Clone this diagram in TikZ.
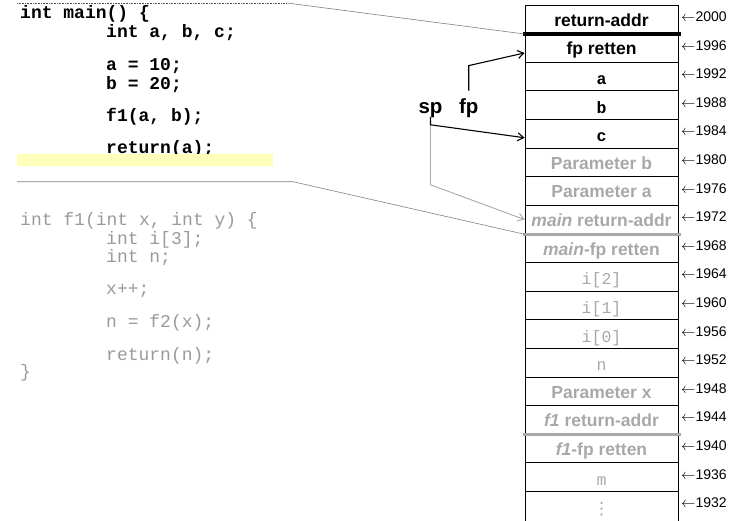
\documentclass[tikz,border=0pt]{standalone}
\usepackage{amsmath, amssymb}
\usepackage{fontspec}
\usepackage{tikz}
\usepackage{xcolor}
\usetikzlibrary{arrows.meta}

\newfontfamily\helv{Liberation Sans}
\newfontfamily\cour{Liberation Mono}
\newfontfamily\dejavu{DejaVu Sans}

\definecolor{stackgray}{HTML}{A8A8A8}
\definecolor{codegray}{HTML}{9A9A9A}
\definecolor{markyellow}{HTML}{FFFFBB}

\tikzset{
    cell/.style={draw, line width=0.8pt, minimum width=153pt, minimum height=28.61pt,
        inner sep=0pt, text height=16pt, text depth=2pt,
        font=\helv\bfseries\fontsize{17.5}{20}\selectfont},
    oldcell/.style={cell, text=stackgray},
    varcell/.style={cell, text height=17pt, text depth=1pt,
        font=\cour\bfseries\fontsize{16.5}{18}\selectfont},
    oldvarcell/.style={varcell, text=stackgray, font=\cour\fontsize{16.5}{18}\selectfont},
    addr/.style={anchor=west, inner sep=0pt, font=\helv\fontsize{14}{16}\selectfont},
    maincode/.style={anchor=base west, inner sep=0pt, font=\cour\bfseries\fontsize{18}{20}\selectfont},
    f1code/.style={anchor=base west, inner sep=0pt, text=codegray, font=\cour\fontsize{18}{20}\selectfont},
    regname/.style={anchor=base west, font=\helv\bfseries\fontsize{20.5}{24}\selectfont},
    ptr/.style={-{Straight Barb[length=6pt, width=8pt]}, line width=1.1pt},
    oldptr/.style={ptr, stackgray, line width=0.9pt},
    framing/.style={gray, line width=0.6pt},
    splitline/.style={line width=3.5pt}
}

\begin{document}
\begin{tikzpicture}[x=1pt, y=-1pt]
                \useasboundingbox (0,0) rectangle (745,520);
                % code of main
                \node[maincode] (m1) at (20,18.7) {int main() \{};
                \node[maincode] (m2) at (106,37.7) {int a, b, c;};
                \node[maincode] (m3) at (106,70.7) {a = 10;};
                \node[maincode] (m4) at (106,89.3) {b = 20;};
                \node[maincode] (m5) at (106,121.7) {f1(a, b);};
                \node[maincode] (m6) at (106,153.3) {return(a);};
                \fill[markyellow] (17,154) rectangle (273,166);
                % code of f1
                \node[f1code] (g1) at (20,225) {int f1(int x, int y) \{};
                \node[f1code] (g2) at (106,244) {int i[3];};
                \node[f1code] (g3) at (106,262.3) {int n;};
                \node[f1code] (g4) at (106,294) {x++;};
                \node[f1code] (g5) at (106,327.3) {n = f2(x);};
                \node[f1code] (g6) at (106,360) {return(n);};
                \node[f1code] (g7) at (20,377) {\}};
                % the stack
                \node[cell] (c0) at (601.5,19.31) {return-addr};
                \node[cell] (c1) at (601.5,47.92) {fp retten};
                \node[varcell] (c2) at (601.5,76.53) {a};
                \node[varcell] (c3) at (601.5,105.14) {b};
                \node[varcell] (c4) at (601.5,133.75) {c};
                \node[oldcell] (c5) at (601.5,162.36) {Parameter b};
                \node[oldcell] (c6) at (601.5,190.97) {Parameter a};
                \node[oldcell] (c7) at (601.5,219.58) {{\itshape main} return-addr};
                \node[oldcell] (c8) at (601.5,248.19) {{\itshape main}-fp retten};
                \node[oldvarcell] (c9) at (601.5,276.80) {i[2]};
                \node[oldvarcell] (c10) at (601.5,305.41) {i[1]};
                \node[oldvarcell] (c11) at (601.5,334.02) {i[0]};
                \node[oldvarcell] (c12) at (601.5,362.63) {n};
                \node[oldcell] (c13) at (601.5,391.24) {Parameter x};
                \node[oldcell] (c14) at (601.5,419.85) {{\itshape f1} return-addr};
                \node[oldcell] (c15) at (601.5,448.46) {{\itshape f1}-fp retten};
                \node[oldvarcell] (c16) at (601.5,477.07) {m};
                \node[oldcell, minimum height=33pt, font=\dejavu\fontsize{17}{20}\selectfont] (c17) at (601.5,507.9) {⋮};
                % frame boundaries
                \draw[splitline] ([xshift=-2pt]c0.south west) -- ([xshift=3pt]c0.south east);
                \draw[splitline, stackgray] ([xshift=-2pt]c7.south west) -- ([xshift=3pt]c7.south east);
                \draw[splitline, stackgray] ([xshift=-2pt]c14.south west) -- ([xshift=3pt]c14.south east);
                % addresses
                \node[addr] (a0) at (681,16.6) {$\leftarrow$2000};
                \node[addr] (a1) at (681,45.2) {$\leftarrow$1996};
                \node[addr] (a2) at (681,73.8) {$\leftarrow$1992};
                \node[addr] (a3) at (681,102.4) {$\leftarrow$1988};
                \node[addr] (a4) at (681,131.0) {$\leftarrow$1984};
                \node[addr] (a5) at (681,159.7) {$\leftarrow$1980};
                \node[addr] (a6) at (681,188.3) {$\leftarrow$1976};
                \node[addr] (a7) at (681,216.9) {$\leftarrow$1972};
                \node[addr] (a8) at (681,245.5) {$\leftarrow$1968};
                \node[addr] (a9) at (681,274.1) {$\leftarrow$1964};
                \node[addr] (a10) at (681,302.7) {$\leftarrow$1960};
                \node[addr] (a11) at (681,331.3) {$\leftarrow$1956};
                \node[addr] (a12) at (681,359.9) {$\leftarrow$1952};
                \node[addr] (a13) at (681,388.5) {$\leftarrow$1948};
                \node[addr] (a14) at (681,417.1) {$\leftarrow$1944};
                \node[addr] (a15) at (681,445.8) {$\leftarrow$1940};
                \node[addr] (a16) at (681,474.4) {$\leftarrow$1936};
                \node[addr] (a17) at (681,503.0) {$\leftarrow$1932};
                % lines from the code to its frame
                \coordinate (topleft) at (17,3);
                \coordinate (topbend) at (287,3);
                \coordinate (botleft) at (17,181.7);
                \coordinate (botbend) at (293,181.7);
                \draw[framing, densely dotted, black!70] (topleft) -- (topbend);
                \draw[framing] (topbend) -- (c0.south west);
                \draw[framing] (botleft) -- (botbend) -- (c7.south west);
                % sp and fp
                \node[regname] (sp) at (415,113) {sp};
                \node[regname] (fp) at (455.5,113) {fp};
                \draw[ptr] ([yshift=4pt]fp.north) -- ++(0,-25) -- ([yshift=-5pt]c1.west);
                \draw[oldptr] ([yshift=-4pt]sp.south) -- ++(0,60) -- (c7.west);
                \draw[ptr] ([yshift=4pt]sp.south) -- ++(0,8) -- ([yshift=-4pt]c4.west);
            \end{tikzpicture}
\end{document}
